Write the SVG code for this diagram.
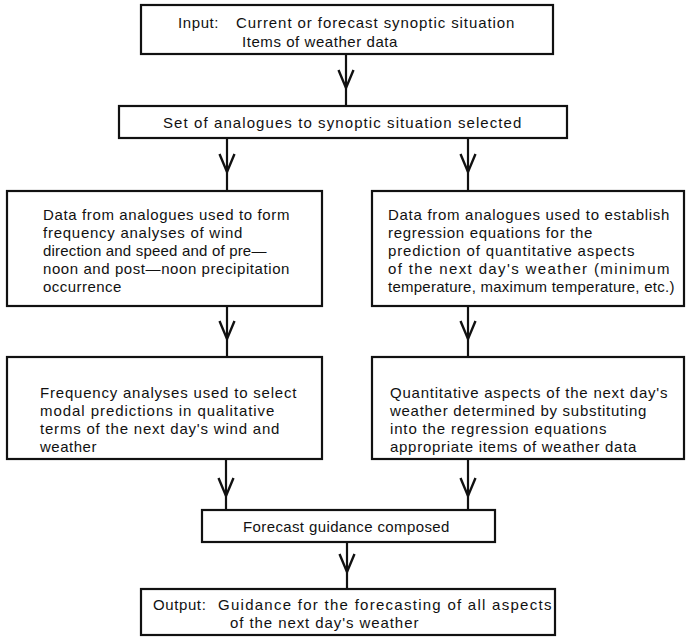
<svg xmlns="http://www.w3.org/2000/svg" width="687" height="639" viewBox="0 0 687 639">
<style>
.box{fill:#fff;stroke:#111;stroke-width:2.2}
.t{font-family:"Liberation Sans",Arial,Helvetica,sans-serif;font-size:15px;fill:#111;letter-spacing:0.6px}
.ln{stroke:#111;stroke-width:2.2;fill:none}
.v{stroke:#111;stroke-width:2.4;fill:none;stroke-linejoin:miter}
</style>
<rect width="687" height="639" fill="#fff"/>
<g id="connectors">
<line class="ln" x1="346" y1="54" x2="346" y2="106"/>
<path class="v" d="M338.5,70 L346,88 L353.5,70"/>
<line class="ln" x1="227" y1="138" x2="227" y2="191"/>
<path class="v" d="M219.5,154 L227,172 L234.5,154"/>
<line class="ln" x1="468" y1="138" x2="468" y2="191"/>
<path class="v" d="M460.5,154 L468,172 L475.5,154"/>
<line class="ln" x1="227" y1="306" x2="227" y2="357"/>
<path class="v" d="M219.5,321 L227,339 L234.5,321"/>
<line class="ln" x1="468" y1="306" x2="468" y2="357"/>
<path class="v" d="M460.5,321 L468,339 L475.5,321"/>
<line class="ln" x1="226" y1="459" x2="226" y2="510"/>
<path class="v" d="M218.5,478 L226,496 L233.5,478"/>
<line class="ln" x1="468" y1="459" x2="468" y2="510"/>
<path class="v" d="M460.5,478 L468,496 L475.5,478"/>
<line class="ln" x1="347" y1="542" x2="347" y2="589"/>
<path class="v" d="M339.5,554 L347,572 L354.5,554"/>
</g>
<g id="input">
<rect class="box" x="141" y="5" width="412" height="49"/>
<text class="t" x="178" y="28">Input:</text>
<text class="t" x="236" y="28" textLength="279" lengthAdjust="spacing">Current or forecast synoptic situation</text>
<text class="t" x="242" y="47" textLength="156" lengthAdjust="spacing">Items of weather data</text>
</g>
<g id="analogues">
<rect class="box" x="119" y="106" width="448" height="32"/>
<text class="t" x="163" y="128" textLength="359" lengthAdjust="spacing">Set of analogues to synoptic situation selected</text>
</g>
<g id="frequency-data">
<rect class="box" x="7" y="191" width="315" height="115"/>
<text class="t" x="43" y="220" textLength="247" lengthAdjust="spacing">Data from analogues used to form</text>
<text class="t" x="43" y="238" textLength="200" lengthAdjust="spacing">frequency analyses of wind</text>
<text class="t" x="43" y="256" textLength="224" lengthAdjust="spacing">direction and speed and of pre—</text>
<text class="t" x="43" y="274" textLength="247" lengthAdjust="spacing">noon and post—noon precipitation</text>
<text class="t" x="43" y="292" textLength="79" lengthAdjust="spacing">occurrence</text>
</g>
<g id="regression-data">
<rect class="box" x="372" y="191" width="312" height="115"/>
<text class="t" x="388" y="220" textLength="282" lengthAdjust="spacing">Data from analogues used to establish</text>
<text class="t" x="388" y="238" textLength="205" lengthAdjust="spacing">regression equations for the</text>
<text class="t" x="388" y="256" textLength="247" lengthAdjust="spacing">prediction of quantitative aspects</text>
<text class="t" x="388" y="274" textLength="282" lengthAdjust="spacing">of the next day's weather  (minimum</text>
<text class="t" x="388" y="292" textLength="287" lengthAdjust="spacing">temperature, maximum temperature, etc.)</text>
</g>
<g id="modal-predictions">
<rect class="box" x="7" y="357" width="315" height="102"/>
<text class="t" x="40" y="398" textLength="257" lengthAdjust="spacing">Frequency analyses used to select</text>
<text class="t" x="40" y="416" textLength="235" lengthAdjust="spacing">modal predictions in qualitative</text>
<text class="t" x="40" y="434" textLength="240" lengthAdjust="spacing">terms of the next day's wind and</text>
<text class="t" x="40" y="452" textLength="57" lengthAdjust="spacing">weather</text>
</g>
<g id="quantitative">
<rect class="box" x="372" y="357" width="312" height="102"/>
<text class="t" x="390" y="398" textLength="278" lengthAdjust="spacing">Quantitative aspects of the next day's</text>
<text class="t" x="390" y="416" textLength="257" lengthAdjust="spacing">weather determined by substituting</text>
<text class="t" x="390" y="434" textLength="217" lengthAdjust="spacing">into the regression equations</text>
<text class="t" x="390" y="452" textLength="247" lengthAdjust="spacing">appropriate items of weather data</text>
</g>
<g id="guidance">
<rect class="box" x="202" y="510" width="293" height="32"/>
<text class="t" x="243" y="532" textLength="207" lengthAdjust="spacing">Forecast guidance composed</text>
</g>
<g id="output">
<rect class="box" x="141" y="589" width="414" height="46"/>
<text class="t" x="153" y="610">Output:</text>
<text class="t" x="218" y="610" textLength="334" lengthAdjust="spacing">Guidance for the forecasting of all aspects</text>
<text class="t" x="230" y="628" textLength="189" lengthAdjust="spacing">of the next day's weather</text>
</g>
</svg>
